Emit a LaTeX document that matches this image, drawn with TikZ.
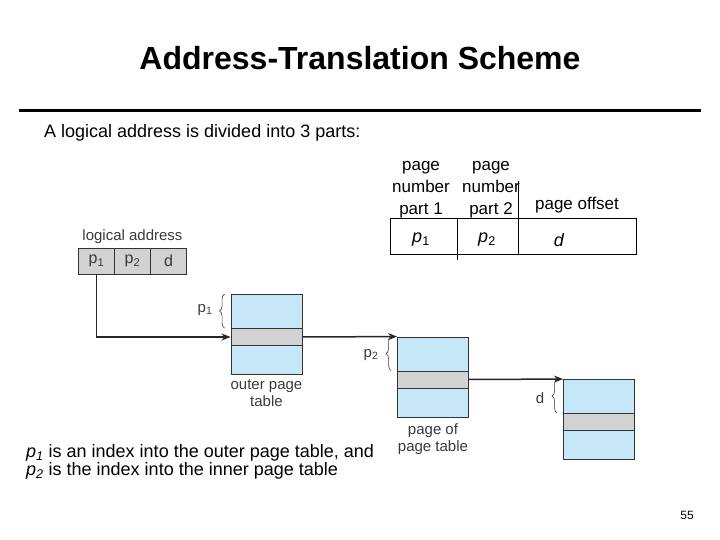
\documentclass[tikz,border=0pt]{standalone}
\usepackage{fontspec}
\setmainfont{Liberation Sans}
\usetikzlibrary{arrows.meta, positioning, decorations.pathreplacing}
\definecolor{tableBlue}{HTML}{C6E7F8}
\definecolor{rowGray}{HTML}{D2D2D2}
\definecolor{lineGray}{HTML}{333333}
\definecolor{labelGray}{HTML}{3A3A3A}

\begin{document}
\begin{tikzpicture}[
		x=1pt, y=-1pt,
		every node/.style={font=\fontsize{17}{22}\selectfont, inner sep=0pt},
		figlabel/.style={font=\fontsize{15}{17}\selectfont, text=labelGray, align=center},
		tbl/.style={draw=lineGray, line width=0.9pt, fill=tableBlue, minimum width=71pt, minimum height=80pt},
		tblrow/.style={draw=lineGray, line width=0.9pt, fill=rowGray, minimum width=71pt, minimum height=17pt},
		lacell/.style={draw=lineGray, line width=0.9pt, fill=rowGray, minimum width=36pt, minimum height=26pt, outer sep=0pt, font=\fontsize{16}{18}\selectfont, text=labelGray},
		arrow/.style={-{Stealth[length=9pt,width=7pt]}, line width=1.5pt, draw=black!85},
		brc/.style={decorate, decoration={brace, amplitude=5pt}, draw=labelGray, line width=0.6pt}
	]
		\useasboundingbox (0,0) rectangle (720,540);

		% title and rule
		\node[font=\fontsize{32}{36}\selectfont\bfseries] (title) at (360,58) {Address-Translation Scheme};
		\draw[line width=3pt] (19,111) -- (701,111);
		\node[anchor=west, font=\fontsize{18}{21}\selectfont] (intro) at (44,133) {A logical address is divided into 3 parts:};

		% address layout
		\node[draw, line width=1pt, minimum width=246pt, minimum height=35pt] (addr) at (513,236.5) {};
		\draw[line width=1pt] ([xshift=-56pt]addr.north) -- ([xshift=-56pt, yshift=-5pt]addr.south);
		\draw[line width=1pt] ([xshift=5pt, yshift=37pt]addr.north) -- ([xshift=5pt]addr.south);
		\node[font=\fontsize{18}{21}\selectfont] (pp1) at (421,240) {\textit{p}\textsubscript{1}};
		\node[font=\fontsize{18}{21}\selectfont] (pp2) at (487,240) {\textit{p}\textsubscript{2}};
		\node[font=\fontsize{18}{21}\selectfont] (pd) at (559,240) {\textit{d}};
		\node[align=center] (hd1) at (421,190) {page\\number\\part 1};
		\node[align=center] (hd2) at (491,190) {page\\number\\part 2};
		\node (hd3) at (577,205) {page offset};

		% logical address
		\node[lacell] (la1) at (96.5,261) {p\textsubscript{1}};
		\node[lacell, right=0pt of la1] (la2) {p\textsubscript{2}};
		\node[lacell, right=0pt of la2] (la3) {d};
		\node[figlabel, above=4pt of la2] (lalbl) {logical address};

		% tables
		\node[tbl] (outer) at (266.5,334.5) {};
		\node[tblrow] (outerrow) at (266.5,337) {};
		\node[figlabel, below=5pt of outer] (outerlbl) {outer page\\table};

		\node[tbl] (inner) at (433,377) {};
		\node[tblrow] (innerrow) at (433,379.5) {};
		\node[figlabel, below=6pt of inner] (innerlbl) {page of\\page table};

		\node[tbl] (frame) at (599,419.5) {};
		\node[tblrow] (framerow) at (599,422) {};

		\draw[arrow] (la1.south) |- (outerrow.west);
		\draw[arrow] (outerrow.east) -- (inner.north west);
		\draw[arrow] (innerrow.east) -- (frame.north west);

		% braces
		\draw[brc] ([xshift=-6pt]outerrow.north west) -- ([xshift=-6pt]outer.north west);
		\node[figlabel] (p1lbl) at (205,310) {p\textsubscript{1}};
		\draw[brc] ([xshift=-6pt]innerrow.north west) -- ([xshift=-6pt]inner.north west);
		\node[figlabel] (p2lbl) at (371,355) {p\textsubscript{2}};
		\draw[brc] ([xshift=-6pt]framerow.north west) -- ([xshift=-6pt]frame.north west);
		\node[figlabel] (dlbl) at (540,398) {d};

		\node[anchor=west, align=left, font=\fontsize{18}{17.5}\selectfont] (note) at (26,462) {\textit{p\textsubscript{1}} is an index into the outer page table, and\\\textit{p\textsubscript{2}} is the index into the inner page table};
		\node[font=\fontsize{12}{14}\selectfont] (pagenum) at (687,515) {55};
	\end{tikzpicture}
\end{document}
